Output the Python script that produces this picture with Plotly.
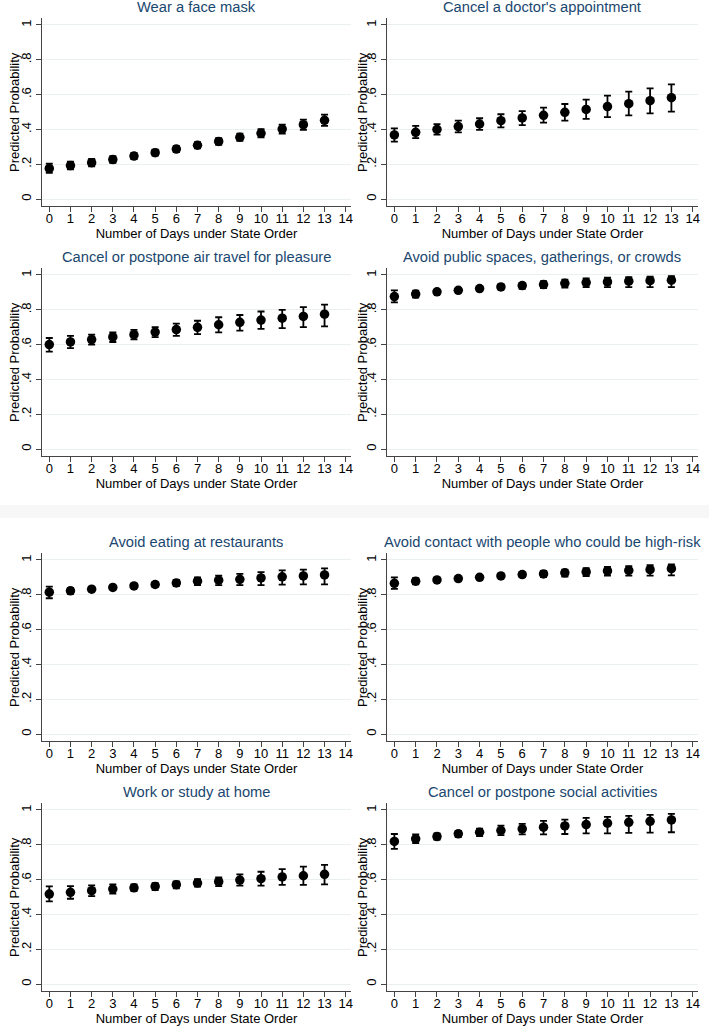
import plotly.graph_objects as go

days = list(range(14))
x_ticks = list(range(15))
y_tickvals = [0, 0.2, 0.4, 0.6, 0.8, 1]
y_ticktext = ["0", ".2", ".4", ".6", ".8", "1"]

titles = [
    "Wear a face mask",
    "Cancel a doctor's appointment",
    "Cancel or postpone air travel for pleasure",
    "Avoid public spaces, gatherings, or crowds",
    "Avoid eating at restaurants",
    "Avoid contact with people who could be high-risk",
    "Work or study at home",
    "Cancel or postpone social activities",
]

mask_p = [.176, .192, .209, .227, .247, .266, .287, .309, .331, .355, .378, .402, .427, .452]
mask_lo = [.150, .170, .188, .208, .229, .249, .270, .291, .312, .334, .355, .376, .398, .420]
mask_hi = [.203, .215, .230, .246, .265, .283, .304, .327, .350, .376, .401, .428, .456, .485]

doctor_p = [.368, .383, .400, .416, .431, .450, .466, .481, .498, .515, .531, .548, .565, .582]
doctor_lo = [.330, .350, .370, .383, .397, .412, .425, .439, .450, .460, .470, .481, .492, .502]
doctor_hi = [.406, .420, .430, .450, .464, .487, .505, .525, .546, .571, .594, .617, .636, .659]

travel_p = [.600, .615, .629, .644, .657, .672, .686, .699, .714, .728, .741, .752, .762, .775]
travel_lo = [.560, .580, .600, .615, .630, .643, .650, .660, .670, .680, .690, .695, .700, .705]
travel_hi = [.638, .650, .657, .670, .685, .700, .720, .737, .757, .770, .790, .800, .815, .830]

public_p = [.876, .890, .903, .912, .922, .931, .939, .945, .952, .956, .960, .964, .967, .970]
public_lo = [.842, .870, .895, .903, .912, .918, .920, .925, .928, .930, .930, .930, .930, .930]
public_hi = [.912, .910, .912, .920, .930, .945, .955, .965, .973, .980, .985, .988, .990, .993]

rest_p = [.815, .823, .832, .842, .851, .859, .868, .878, .884, .889, .897, .903, .908, .914]
rest_lo = [.780, .805, .825, .834, .842, .845, .850, .855, .855, .855, .855, .858, .860, .860]
rest_hi = [.847, .840, .840, .850, .860, .873, .886, .900, .910, .920, .930, .940, .945, .952]

risk_p = [.866, .878, .885, .893, .900, .908, .916, .920, .926, .931, .937, .940, .944, .950]
risk_lo = [.834, .860, .878, .886, .893, .898, .902, .902, .905, .908, .910, .910, .910, .912]
risk_hi = [.900, .895, .893, .900, .908, .918, .928, .937, .945, .953, .960, .965, .970, .975]

home_p = [.517, .527, .536, .546, .553, .561, .571, .580, .588, .597, .605, .615, .622, .630]
home_lo = [.475, .490, .505, .520, .535, .540, .550, .560, .563, .565, .565, .570, .570, .572]
home_hi = [.561, .563, .567, .572, .573, .580, .590, .602, .613, .630, .645, .660, .675, .685]

social_p = [.819, .834, .847, .863, .872, .882, .891, .901, .908, .916, .924, .929, .935, .943]
social_lo = [.776, .810, .830, .845, .850, .855, .860, .860, .862, .865, .866, .868, .870, .872]
social_hi = [.862, .860, .865, .880, .893, .910, .920, .937, .945, .955, .960, .966, .972, .978]

series = [
    (mask_p, mask_lo, mask_hi),
    (doctor_p, doctor_lo, doctor_hi),
    (travel_p, travel_lo, travel_hi),
    (public_p, public_lo, public_hi),
    (rest_p, rest_lo, rest_hi),
    (risk_p, risk_lo, risk_hi),
    (home_p, home_lo, home_hi),
    (social_p, social_lo, social_hi),
]

W, H = 711, 1027
# pixel layout (top, bottom) for rows and (left, right) for columns
rows_px = [(18, 206), (268, 456), (553, 741), (803, 991)]
cols_px = [(42, 352), (388, 700)]
title_px = [7, 257, 542, 792]
ytitle_px = [14, 363]

FONT = "Liberation Sans, Arial, Helvetica, sans-serif"
TITLE_COLOR = "#1a476f"
GRID = "#eaf0f2"

fig = go.Figure()
layout = dict(
    width=W, height=H,
    margin=dict(l=0, r=0, t=0, b=0),
    paper_bgcolor="white", plot_bgcolor="white",
    showlegend=False,
    font=dict(family=FONT, color="black"),
    annotations=[],
    shapes=[],
)

for i, (p, lo, hi) in enumerate(series):
    r, c = divmod(i, 2)
    n = i + 1
    xa = "x" if n == 1 else f"x{n}"
    ya = "y" if n == 1 else f"y{n}"
    err_plus = [h - v for h, v in zip(hi, p)]
    err_minus = [v - l for v, l in zip(p, lo)]
    fig.add_trace(go.Scatter(
        x=days, y=p, mode="markers", xaxis=xa, yaxis=ya,
        marker=dict(color="black", size=9.5),
        error_y=dict(type="data", symmetric=False, array=err_plus, arrayminus=err_minus,
                     color="black", thickness=1.8, width=3.5),
    ))
    top, bot = rows_px[r]
    left, right = cols_px[c]
    xkey = "xaxis" if n == 1 else f"xaxis{n}"
    ykey = "yaxis" if n == 1 else f"yaxis{n}"
    layout[xkey] = dict(
        domain=[left / W, right / W], anchor=ya,
        range=[-0.35, 14.25], tickvals=x_ticks, ticktext=[str(t) for t in x_ticks],
        showgrid=False, zeroline=False, showline=True, linecolor="#444", linewidth=1,
        ticks="outside", ticklen=5, tickcolor="#444", tickwidth=1,
        ticklabelstandoff=-5,
        tickfont=dict(size=13, color="black", family=FONT),
        title=dict(text="Number of Days under State Order", font=dict(size=13, color="black", family=FONT), standoff=0),
        fixedrange=True,
    )
    layout[ykey] = dict(
        domain=[1 - bot / H, 1 - top / H], anchor=xa,
        range=[-0.04, 1.04], tickvals=y_tickvals, ticktext=y_ticktext,
        tickangle=-90,
        showgrid=True, gridcolor=GRID, gridwidth=1, zeroline=False,
        showline=True, linecolor="#444", linewidth=1,
        ticks="outside", ticklen=5, tickcolor="#444", tickwidth=1,
        ticklabelstandoff=0,
        tickfont=dict(size=13, color="black", family=FONT),
        fixedrange=True,
    )
    layout["annotations"].append(dict(
        text=titles[i], xref="paper", yref="paper",
        x=(left + right) / 2 / W, y=1 - title_px[r] / H,
        xanchor="center", yanchor="middle", showarrow=False,
        font=dict(size=14.7, color=TITLE_COLOR, family=FONT),
    ))
    layout["annotations"].append(dict(
        text="Predicted Probability", xref="paper", yref="paper",
        x=ytitle_px[c] / W, y=1 - (top + bot) / 2 / H,
        xanchor="center", yanchor="middle", showarrow=False, textangle=-90,
        font=dict(size=13, color="black", family=FONT),
    ))

# faint separator band between the two halves
layout["shapes"].append(dict(
    type="rect", xref="paper", yref="paper",
    x0=0, x1=1, y0=1 - 518 / H, y1=1 - 505 / H,
    fillcolor="#f7f7f7", line=dict(width=0), layer="below",
))

fig.update_layout(**layout)
fig.write_html("out.html", config={"displayModeBar": False},
               post_script="document.body.style.margin='0';")
